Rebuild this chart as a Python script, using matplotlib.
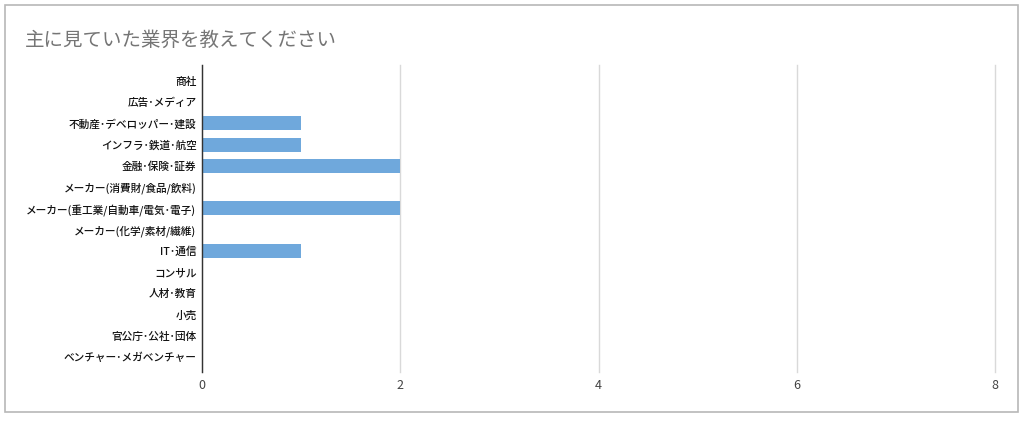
import matplotlib
matplotlib.use("Agg")
import matplotlib.pyplot as plt
from matplotlib.patches import Rectangle

plt.rcParams['font.family'] = ['Noto Sans CJK JP', 'DejaVu Sans']

title = "主に見ていた業界を教えてください"
categories = [
    "商社",
    "広告･メディア",
    "不動産･デベロッパー･建設",
    "インフラ･鉄道･航空",
    "金融･保険･証券",
    "メーカー(消費財/食品/飲料)",
    "メーカー(重工業/自動車/電気･電子)",
    "メーカー(化学/素材/繊維)",
    "IT･通信",
    "コンサル",
    "人材･教育",
    "小売",
    "官公庁･公社･団体",
    "ベンチャー･メガベンチャー",
]
counts = [0, 0, 1, 1, 2, 0, 2, 0, 1, 0, 0, 0, 0, 0]
xticks = [0, 2, 4, 6, 8]

fig = plt.figure(figsize=(10.24, 4.21), dpi=100)
fig.patches.append(Rectangle((5 / 1024, 1 - 412 / 421), 1013 / 1024, 407 / 421,
                             transform=fig.transFigure, fill=False,
                             edgecolor="#b8b8b8", linewidth=1.2))
fig.text(25 / 1024, 1 - 40 / 421, title, fontsize=14, color="#757575", va="center")

ax = fig.add_axes([202 / 1024, 1 - 372 / 421, (995 - 202) / 1024, (372 - 65) / 421])
y = range(len(categories))
ax.barh(y, counts, height=0.66, color="#6fa8dc", zorder=3)
ax.set_ylim(len(categories) - 0.3, -0.75)
ax.set_xlim(0, 8)
ax.set_xticks(xticks)
ax.set_xticklabels([str(t) for t in xticks], fontsize=9, color="#444444")
ax.set_yticks(list(y))
ax.set_yticklabels(categories, fontsize=7.7, color="#111111", fontweight="medium")
ax.tick_params(axis="y", length=0, pad=4)
ax.tick_params(axis="x", length=0, pad=5)
ax.grid(axis="x", color="#d9d9d9", linewidth=1, zorder=0)
for gl in ax.get_xgridlines():
    gl.set_clip_on(False)
for s in ["top", "right", "bottom"]:
    ax.spines[s].set_visible(False)
ax.spines["left"].set_color("#333333")
ax.spines["left"].set_linewidth(1)
ax.spines["left"].set_zorder(4)

fig.savefig("out.png", dpi=100, facecolor="white")
